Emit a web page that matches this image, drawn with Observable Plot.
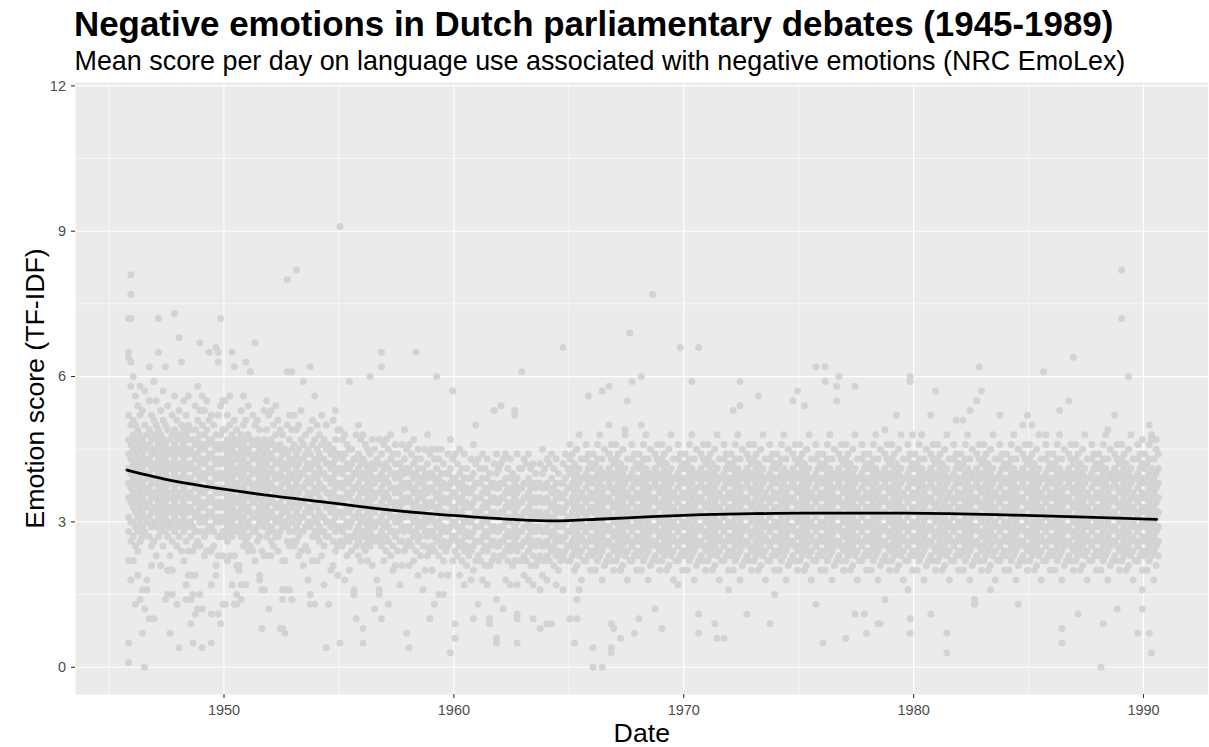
<!DOCTYPE html>
<html>
<head>
<meta charset="utf-8">
<script src="https://cdn.jsdelivr.net/npm/d3@7"></script>
<script src="https://cdn.jsdelivr.net/npm/@observablehq/plot@0.6"></script>
<style>
  html, body { margin: 0; padding: 0; background: #ffffff; }
  #wrap { position: relative; width: 1209px; height: 747px; overflow: hidden; font-family: "Liberation Sans", Arial, sans-serif; }
  #title { position: absolute; left: 74px; top: 7px; font-size: 34.9px; line-height: 1; font-weight: bold; color: #000; white-space: nowrap; }
  #subtitle { position: absolute; left: 74.5px; top: 48px; font-size: 26.9px; line-height: 1; color: #000; white-space: nowrap; }
  #chart { position: absolute; left: 0; top: 78px; }
</style>
</head>
<body>
<div id="wrap">
  <div id="title">Negative emotions in Dutch parliamentary debates (1945-1989)</div>
  <div id="subtitle">Mean score per day on language use associated with negative emotions (NRC EmoLex)</div>
  <div id="chart"></div>
</div>
<script>
// Axis ticks and grid
const xMajor = [1950, 1960, 1970, 1980, 1990];
const xMinor = [1945, 1955, 1965, 1975, 1985];
const yMajor = [0, 3, 6, 9, 12];
const yMinor = [1.5, 4.5, 7.5, 10.5];

// Daily mean scores. Each block covers five years;
// each inner list is one tenth of a year; values are scores x10.
const score1945 = [
  [],[],[],[],[],[],[],[],[72,65,64,52,47,44,41,38,35,31,28,22,5,1],[81,77,72,63,58,50,46,43,40,37,34,30,26,18],
  [60,51,48,45,42,39,36,33,30,27,22],[56,50,47,44,41,38,35,32,29,25,13],[54,49,46,43,40,37,34,31,28,24,19],[58,52,48,45,42,39,36,33,30,26,14],[53,47,44,41,38,35,32,29,27,16,7],[57,50,46,43,40,37,34,31,28,12,0],[48,45,42,39,36,33,30,18,16],[62,55,49,46,43,40,37,34,31,27,10],[52,47,44,41,38,35,32,29,25,21],[59,51,48,45,42,39,36,33,30,26,10],
  [55,50,47,44,41,38,35,32,29,23],[72,65,49,46,43,40,37,34,31,27],[53,48,45,42,39,36,33,30,28,21],[57,51,47,44,41,38,35,32,29,25],[62,50,46,43,40,37,34,31,28,14],[54,49,45,42,39,36,33,30,27,20,15],[47,44,41,38,35,32,29,23,20,7],[52,48,45,42,39,36,33,30,26,20,15],[73,56,49,46,43,40,37,34,31,28],[51,47,44,41,38,35,32,29,25,13],
  [68,53,48,45,42,39,36,33,30,27,4],[63,50,47,44,41,38,35,32,29,24],[55,49,46,43,40,37,34,31,28,22],[52,48,45,42,39,36,33,30,26,17,14],[56,50,47,44,41,38,35,32,29,24,19],[49,45,42,39,36,33,30,27,19,14,9],[47,44,41,38,35,32,29,24,15,5],[54,49,46,43,40,37,34,31,28,25,19,11],[58,51,47,44,41,38,35,32,28,26,12],[67,53,48,45,42,39,36,33,30,25,15],
  [56,50,46,43,40,37,34,31,28,12,4],[53,48,45,42,39,36,33,30,27,23],[55,49,46,43,40,37,34,31,28,24],[65,51,47,44,41,38,35,32,29,24],[52,47,44,41,38,35,32,29,24,17,11,5],[50,46,43,40,37,34,31,28,25],[66,48,45,42,39,36,33,30,21,19],[65,63,52,46,43,40,37,34,31,27,23,11],[72,54,48,45,42,39,36,33,30,27,9],[55,49,46,43,40,37,34,31,28,23,13]
];
const score1950 = [
  [55,49,45,42,39,36,33,30,27,13],[52,47,44,41,38,35,32,29,26,22],[56,50,46,43,40,37,34,31,28,23],[65,48,45,42,39,36,33,30,27,17],[62,51,47,44,41,38,35,32,29,23,13],[49,46,43,40,37,34,31,28,21,15,13],[47,44,41,38,35,32,29,21,20],[53,48,45,42,39,36,33,30,27,17,14],[56,50,46,43,40,37,34,31,28,25],[63,51,47,44,41,38,35,32,29,26,17],
  [54,48,45,42,39,36,33,30,27,24],[61,61,47,44,41,38,35,32,29,25],[52,46,43,40,37,34,31,28,24],[67,50,46,43,40,37,34,31,28,22],[51,47,44,41,38,35,32,29,26],[49,45,42,39,36,33,30,27,19,18],[46,43,40,37,34,31,24,16,8],[53,47,44,41,38,35,32,29,23,16],[55,49,45,42,39,36,33,30,27],[52,46,43,40,37,34,31,28,23,12],
  [53,47,44,41,38,35,32,29,26,23],[50,46,43,40,37,34,31,28,25],[54,48,45,42,39,36,33,30,27],[51,45,42,39,36,33,30,27,24],[49,46,43,40,37,34,31,28,8],[48,44,41,38,35,32,29,22,16,14,8],[45,42,39,36,33,30,22,16,7],[80,61,50,44,41,38,35,32,29,26,16],[52,47,43,40,37,34,31,28,25,16],[61,49,45,42,39,36,33,30,26,14],
  [52,46,43,40,37,34,31,28,25],[82,49,44,41,38,35,32,29,26],[50,45,42,39,36,33,30,27,23],[53,47,43,40,37,34,31,28,24],[59,46,43,40,37,34,31,28,21],[48,44,41,38,35,32,29,25],[45,42,39,36,33,30,24,18],[62,49,44,41,38,35,32,29,15,13],[51,46,42,39,36,33,30,27,22],[56,47,43,40,37,34,31,28,13],
  [50,45,42,39,36,33,30,27,22],[48,44,41,38,35,32,29,26],[52,46,43,40,37,34,31,28,23],[47,43,40,37,34,31,28,25,17],[50,45,42,39,36,33,30,27,4],[46,42,39,36,33,30,27,13],[44,41,38,35,32,29,20],[51,45,42,39,36,33,30,26,21],[53,47,43,40,37,34,31,28,24],[49,44,41,38,35,32,29,25,19]
];
const score1955 = [
  [91,49,44,41,38,35,32,29,26,5],[47,43,40,37,34,31,28,25],[48,44,41,38,35,32,29,26,18],[46,42,39,36,33,30,27,23],[59,45,41,38,35,32,29,26,20],[45,42,39,36,33,30,27,24],[43,40,37,34,31,27,16,15],[48,43,40,37,34,31,28,25,10],[50,44,41,38,35,32,29,26,23],[47,42,39,36,33,30,27,22],
  [48,43,40,37,34,31,28,25,8,5],[46,42,39,36,33,30,27,24],[45,41,38,35,32,29,26,22],[60,44,40,37,34,31,28,25],[47,42,39,36,33,30,27,21],[45,41,38,35,32,29,26,12],[43,39,36,33,30,26,18],[47,42,39,36,33,30,27,16,15],[65,62,44,40,37,34,31,28,25,10],[46,41,38,35,32,29,26,22],
  [47,42,39,36,33,30,27,24],[45,41,38,35,32,29,26,13],[48,43,40,37,34,31,28,23],[44,40,37,34,31,28,25,20],[46,42,39,36,33,30,27,21],[44,40,37,34,31,28,24],[42,39,36,33,30,26,17],[46,41,38,35,32,29,26,21],[49,43,40,37,34,31,28,24],[45,41,38,35,32,29,25,7],
  [46,41,38,35,32,29,26,21,4],[44,40,37,34,31,28,25],[47,42,39,36,33,30,27,22],[65,43,40,37,34,31,28,24],[45,41,38,35,32,29,26,19],[43,39,36,33,30,27,23],[41,38,35,32,29,25,16],[45,40,37,34,31,28,25,20],[48,42,39,36,33,30,27,23],[44,40,37,34,31,28,24,10],
  [45,40,37,34,31,28,25,20],[43,39,36,33,30,27,24,13],[60,45,41,38,35,32,29,26],[43,39,36,33,30,27,23,15],[45,40,37,34,31,28,25,19],[42,38,35,32,29,26,22,15],[40,37,34,31,28,24],[44,40,37,34,31,28,25,19],[47,41,38,35,32,29,26,3],[57,43,39,36,33,30,27,22]
];
const score1960 = [
  [44,39,36,33,30,27,24,9,6],[42,38,35,32,29,26,23],[45,40,37,34,31,28,25,19],[41,38,35,32,29,26,22],[44,39,36,33,30,27,24,17],[41,37,34,31,28,25,21],[39,36,33,30,27,23],[43,39,36,33,30,27,24,18],[46,40,37,34,31,28,25,20,10],[50,42,38,35,32,29,26,22],
  [43,38,35,32,29,26,23,13],[41,38,35,32,29,26,22],[44,39,36,33,30,27,24,18],[41,37,34,31,28,25,21],[43,39,36,33,30,27,24,17],[40,37,34,31,28,25,21,10,9],[38,35,32,29,26,22],[53,42,38,35,32,29,26,23],[44,40,37,34,31,28,25,14,6,5],[41,37,34,31,28,25,22],
  [54,42,38,35,32,29,26,23],[43,38,35,32,29,26,23,12],[44,39,36,33,30,27,24,18],[41,37,34,31,28,25,22],[43,39,36,33,30,27,24,17],[40,37,34,31,28,25,21],[53,52,38,35,32,29,26,22],[44,39,36,33,30,27,24,17,11,10,5],[41,37,34,31,28,25,22],[61,41,37,34,31,28,25,22],
  [43,38,35,32,29,26,23,19],[42,38,35,32,29,26,22],[44,39,36,33,30,27,24,18],[41,37,34,31,28,25,21],[42,38,35,32,29,26,23,17,10],[40,37,34,31,28,25,21],[38,35,32,29,26,22],[42,38,35,32,29,26,23,16,8],[45,40,37,34,31,28,25,19],[41,37,34,31,28,25,22],
  [43,38,35,32,29,26,23,18,9],[42,37,34,31,28,25,22],[44,39,36,33,30,27,24,9],[41,37,34,31,28,25,21],[43,38,35,32,29,26,23,17],[40,36,33,30,27,24,20],[38,35,32,29,26,22],[66,42,38,35,32,29,26,23,16],[44,39,36,33,30,27,24],[41,37,34,31,28,25,22]
];
const score1965 = [
  [46,43,40,37,34,31,28,25,22,10],[44,41,38,35,32,29,26,23],[42,39,36,33,30,27,24,20,5],[45,40,37,34,31,28,25,21,10,14],[48,41,38,35,32,29,26,23,16],[43,39,36,33,30,27,24,18],[39,35,32,29,26,22],[46,43,40,37,34,31,28,25,22],[56,44,41,38,35,32,29,26,23],[42,39,36,33,30,27,24,20],
  [44,41,38,35,32,29,26,23,4,0],[42,39,36,33,30,27,24,20],[46,43,40,37,34,31,28,25,22],[48,41,38,35,32,29,26,23],[57,43,39,36,33,30,27,24,18,0],[45,40,37,34,31,28,25,21],[39,35,32,29,26,22],[58,50,44,41,38,35,32,29,26,23],[46,43,40,37,34,31,28,25,22,9,4,3],[42,39,36,33,30,27,24,20,8],
  [46,43,40,37,34,31,28,25,22],[44,41,38,35,32,29,26,23],[42,39,36,33,30,27,24,20,6],[45,40,37,34,31,28,25,21],[49,48,41,38,35,32,29,26,23],[55,43,39,36,33,30,27,24,18],[69,39,35,32,29,26,22],[59,46,43,40,37,34,31,28,25,22],[44,41,38,35,32,29,26,23,7],[42,39,36,33,30,27,24,20],
  [44,41,38,35,32,29,26,23,10],[60,50,42,39,36,33,30,27,24,20],[46,43,40,37,34,31,28,25,22],[48,41,38,35,32,29,26,23],[43,39,36,33,30,27,24,18],[45,40,37,34,31,28,25,21],[77,39,35,32,29,26,22],[44,41,38,35,32,29,26,23,12],[46,43,40,37,34,31,28,25,22],[42,39,36,33,30,27,24,20],
  [46,43,40,37,34,31,28,25,22,8],[44,41,38,35,32,29,26,23],[42,39,36,33,30,27,24,20],[45,40,37,34,31,28,25,21],[48,41,38,35,32,29,26,23],[43,39,36,33,30,27,24,18],[39,35,32,29,26,22],[46,43,40,37,34,31,28,25,22,17],[66,44,41,38,35,32,29,26,23],[42,39,36,33,30,27,24,20]
];
const score1970 = [
  [44,41,38,35,32,29,26,23],[42,39,36,33,30,27,24,20],[46,43,40,37,34,31,28,25,22],[59,48,41,38,35,32,29,26,23],[43,39,36,33,30,27,24,18],[45,40,37,34,31,28,25,21],[66,39,35,32,29,26,22,11,7],[44,41,38,35,32,29,26,23],[46,43,40,37,34,31,28,25,22],[42,39,36,33,30,27,24,20],
  [46,43,40,37,34,31,28,25,22],[44,41,38,35,32,29,26,23],[42,39,36,33,30,27,24,20],[45,40,37,34,31,28,25,21,9],[48,41,38,35,32,29,26,23,6],[43,39,36,33,30,27,24,18],[39,35,32,29,26,22],[46,43,40,37,34,31,28,25,22,6],[44,41,38,35,32,29,26,23],[42,39,36,33,30,27,24,20,16],
  [44,41,38,35,32,29,26,23],[53,42,39,36,33,30,27,24,20],[46,43,40,37,34,31,28,25,22],[48,41,38,35,32,29,26,23],[59,54,43,39,36,33,30,27,24,18],[45,40,37,34,31,28,25,21],[39,35,32,29,26,22],[44,41,38,35,32,29,26,23,11],[46,43,40,37,34,31,28,25,22],[42,39,36,33,30,27,24,20],
  [46,43,40,37,34,31,28,25,22],[44,41,38,35,32,29,26,23],[56,42,39,36,33,30,27,24,20],[45,40,37,34,31,28,25,21],[48,41,38,35,32,29,26,23],[43,39,36,33,30,27,24,18],[39,35,32,29,26,22],[46,43,40,37,34,31,28,25,22,9],[44,41,38,35,32,29,26,23],[42,39,36,33,30,27,24,20,15],
  [44,41,38,35,32,29,26,23],[42,39,36,33,30,27,24,20],[46,43,40,37,34,31,28,25,22],[48,41,38,35,32,29,26,23],[43,39,36,33,30,27,24,18],[45,40,37,34,31,28,25,21],[39,35,32,29,26,22],[55,44,41,38,35,32,29,26,23],[46,43,40,37,34,31,28,25,22],[57,42,39,36,33,30,27,24,20]
];
const score1975 = [
  [46,43,40,37,34,31,28,25,22],[44,41,38,35,32,29,26,23],[54,42,39,36,33,30,27,24,20],[45,40,37,34,31,28,25,21],[48,41,38,35,32,29,26,23],[43,39,36,33,30,27,24,18],[39,35,32,29,26,22],[62,46,43,40,37,34,31,28,25,22,13],[44,41,38,35,32,29,26,23],[42,39,36,33,30,27,24,20],
  [44,41,38,35,32,29,26,23,5],[62,59,42,39,36,33,30,27,24,20],[46,43,40,37,34,31,28,25,22],[48,41,38,35,32,29,26,23],[43,39,36,33,30,27,24,18],[45,40,37,34,31,28,25,21],[58,55,39,35,32,29,26,22],[60,44,41,38,35,32,29,26,23],[46,43,40,37,34,31,28,25,22],[42,39,36,33,30,27,24,20],
  [46,43,40,37,34,31,28,25,22,6],[44,41,38,35,32,29,26,23],[42,39,36,33,30,27,24,20],[45,40,37,34,31,28,25,21],[58,48,41,38,35,32,29,26,23,11],[43,39,36,33,30,27,24,18],[39,35,32,29,26,22],[46,43,40,37,34,31,28,25,22],[44,41,38,35,32,29,26,23,11],[42,39,36,33,30,27,24,20,7],
  [44,41,38,35,32,29,26,23],[42,39,36,33,30,27,24,20],[46,43,40,37,34,31,28,25,22],[48,41,38,35,32,29,26,23],[43,39,36,33,30,27,24,18,9],[45,40,37,34,31,28,25,21,9],[39,35,32,29,26,22],[49,44,41,38,35,32,29,26,23,14],[46,43,40,37,34,31,28,25,22],[42,39,36,33,30,27,24,20],
  [46,43,40,37,34,31,28,25,22],[44,41,38,35,32,29,26,23],[52,42,39,36,33,30,27,24,20],[45,40,37,34,31,28,25,21],[48,41,38,35,32,29,26,23],[43,39,36,33,30,27,24,18],[39,35,32,29,26,22],[46,43,40,37,34,31,28,25,22,16],[60,59,44,41,38,35,32,29,26,23,10,7],[48,42,39,36,33,30,27,24,20]
];
const score1980 = [
  [44,41,38,35,32,29,26,23],[42,39,36,33,30,27,24,20],[46,43,40,37,34,31,28,25,22],[48,41,38,35,32,29,26,23],[43,39,36,33,30,27,24,18],[45,40,37,34,31,28,25,21],[39,35,32,29,26,22],[52,44,41,38,35,32,29,26,23,11],[46,43,40,37,34,31,28,25,22],[57,42,39,36,33,30,27,24,20],
  [46,43,40,37,34,31,28,25,22],[44,41,38,35,32,29,26,23],[42,39,36,33,30,27,24,20],[45,40,37,34,31,28,25,21],[48,41,38,35,32,29,26,23,7,3],[43,39,36,33,30,27,24,18],[39,35,32,29,26,22],[46,43,40,37,34,31,28,25,22],[51,44,41,38,35,32,29,26,23],[42,39,36,33,30,27,24,20],
  [44,41,38,35,32,29,26,23],[51,42,39,36,33,30,27,24,20],[46,43,40,37,34,31,28,25,22],[48,41,38,35,32,29,26,23],[53,43,39,36,33,30,27,24,18],[45,40,37,34,31,28,25,21],[39,35,32,29,26,22,14,13],[55,44,41,38,35,32,29,26,23],[62,46,43,40,37,34,31,28,25,22],[57,42,39,36,33,30,27,24,20],
  [46,43,40,37,34,31,28,25,22],[44,41,38,35,32,29,26,23],[42,39,36,33,30,27,24,20],[45,40,37,34,31,28,25,21,16],[48,41,38,35,32,29,26,23],[43,39,36,33,30,27,24,18],[39,35,32,29,26,22],[52,46,43,40,37,34,31,28,25,22],[44,41,38,35,32,29,26,23],[42,39,36,33,30,27,24,20],
  [44,41,38,35,32,29,26,23],[42,39,36,33,30,27,24,20],[46,43,40,37,34,31,28,25,22],[48,41,38,35,32,29,26,23],[43,39,36,33,30,27,24,18],[45,40,37,34,31,28,25,21,13],[39,35,32,29,26,22],[50,44,41,38,35,32,29,26,23],[46,43,40,37,34,31,28,25,22],[52,42,39,36,33,30,27,24,20]
];
const score1985 = [
  [46,43,40,37,34,31,28,25,22],[50,44,41,38,35,32,29,26,23],[42,39,36,33,30,27,24,20],[45,40,37,34,31,28,25,21],[48,41,38,35,32,29,26,23],[43,39,36,33,30,27,24,18],[61,39,35,32,29,26,22],[48,46,43,40,37,34,31,28,25,22],[44,41,38,35,32,29,26,23],[42,39,36,33,30,27,24,20],
  [44,41,38,35,32,29,26,23],[42,39,36,33,30,27,24,20],[46,43,40,37,34,31,28,25,22],[53,48,41,38,35,32,29,26,23],[43,39,36,33,30,27,24,18,8,5],[45,40,37,34,31,28,25,21],[39,35,32,29,26,22],[55,44,41,38,35,32,29,26,23],[46,43,40,37,34,31,28,25,22],[64,42,39,36,33,30,27,24,20],
  [46,43,40,37,34,31,28,25,22],[44,41,38,35,32,29,26,23,11],[42,39,36,33,30,27,24,20],[45,40,37,34,31,28,25,21],[48,41,38,35,32,29,26,23],[43,39,36,33,30,27,24,18],[39,35,32,29,26,22],[46,43,40,37,34,31,28,25,22],[44,41,38,35,32,29,26,23],[42,39,36,33,30,27,24,20],
  [44,41,38,35,32,29,26,23],[42,39,36,33,30,27,24,20,0],[46,43,40,37,34,31,28,25,22,9],[48,41,38,35,32,29,26,23],[49,43,39,36,33,30,27,24,18],[45,40,37,34,31,28,25,21],[39,35,32,29,26,22],[52,44,41,38,35,32,29,26,23],[46,43,40,37,34,31,28,25,22,12],[42,39,36,33,30,27,24,20],
  [82,72,46,43,40,37,34,31,28,25,22],[44,41,38,35,32,29,26,23],[42,39,36,33,30,27,24,20],[60,45,40,37,34,31,28,25,21],[48,41,38,35,32,29,26,23],[43,39,36,33,30,27,24,18],[39,35,32,29,26,22],[46,43,40,37,34,31,28,25,22,7],[44,41,38,35,32,29,26,23],[47,42,39,36,33,30,27,24,20,16,12]
];
const score1990 = [
  [44,41,38,35,32,29,26,23],[42,39,36,33,30,27,24,20],[50,46,43,40,37,34,31,28,25,22,7],[48,47,41,38,35,32,29,26,23,3],[43,39,36,33,30,27,24,18],[47,45,40,37,34,31,28,25,21],[44,41,38,35,32,29,26,23]
];
const blockStart = [1945, 1950, 1955, 1960, 1965, 1970, 1975, 1980, 1985, 1990];
const blocks = [score1945, score1950, score1955, score1960, score1965, score1970, score1975, score1980, score1985, score1990];

// Loess smooth
const smoothDate  = [1945.78, 1947.85, 1950.07, 1952.21, 1954.38, 1956.56, 1958.7, 1960.91, 1962.6, 1964.3, 1966.48, 1968.6, 1970.83, 1973.0, 1975.18, 1978.97, 1981.5, 1984.32, 1987.5, 1990.57];
const smoothScore = [4.07, 3.84, 3.67, 3.53, 3.41, 3.28, 3.18, 3.10, 3.05, 3.02, 3.06, 3.11, 3.15, 3.17, 3.18, 3.18, 3.17, 3.14, 3.10, 3.05];

const points = [];
blocks.forEach((cols, b) => {
  cols.forEach((col, i) => {
    col.forEach(v => points.push({date: blockStart[b] + i / 10 + 0.05, score: v / 10}));
  });
});
const smooth = smoothDate.map((d, i) => ({date: d, score: smoothScore[i]}));

const W = 1209, H = 669, mT = 4, mR = 1.4, mB = 53, mL = 75;
const frameW = W - mL - mR, frameH = H - mT - mB;
const tickLen = 4;

const chart = Plot.plot({
  width: W,
  height: H,
  marginTop: mT,
  marginRight: mR,
  marginBottom: mB,
  marginLeft: mL,
  style: {fontFamily: "'Liberation Sans', Arial, sans-serif", background: "#ffffff", overflow: "visible"},
  x: {domain: [1943.54, 1992.81], axis: null},
  y: {domain: [-0.563, 12.07], axis: null},
  marks: [
    Plot.frame({fill: "#ebebeb", stroke: "none"}),
    Plot.ruleX(xMinor, {stroke: "#ffffff", strokeWidth: 0.6}),
    Plot.ruleY(yMinor, {stroke: "#ffffff", strokeWidth: 0.6}),
    Plot.ruleX(xMajor, {stroke: "#ffffff", strokeWidth: 1.15}),
    Plot.ruleY(yMajor, {stroke: "#ffffff", strokeWidth: 1.15}),
    Plot.dot(points, {x: "date", y: "score", r: 3.5, fill: "#d3d3d3", stroke: "none"}),
    Plot.line(smooth, {x: "date", y: "score", stroke: "#000000", strokeWidth: 2.8, curve: "monotone-x"}),
    // axis ticks (just outside the panel)
    Plot.tickX(xMajor, {x: d => d, stroke: "#333333", strokeWidth: 1.1, insetTop: frameH - tickLen, dy: tickLen}),
    Plot.tickY(yMajor, {y: d => d, stroke: "#333333", strokeWidth: 1.1, insetRight: frameW - tickLen, dx: -tickLen}),
    // tick labels
    Plot.text(xMajor, {x: d => d, text: d => String(d), frameAnchor: "bottom", lineAnchor: "top", dy: 10.5, fontSize: "14.5px", fill: "#4d4d4d"}),
    Plot.text(yMajor, {y: d => d, text: d => String(d), frameAnchor: "left", textAnchor: "end", lineAnchor: "middle", dx: -9.5, fontSize: "14.5px", fill: "#4d4d4d"}),
    // axis titles
    Plot.text(["Date"], {frameAnchor: "bottom", dy: 47, lineAnchor: "bottom", textAnchor: "middle", fontSize: 26.7, fill: "#000000"}),
    Plot.text(["Emotion score (TF-IDF)"], {frameAnchor: "left", rotate: -90, dx: -32, lineAnchor: "bottom", textAnchor: "middle", fontSize: 26.7, fill: "#000000"})
  ]
});
document.getElementById("chart").appendChild(chart);
</script>
</body>
</html>
